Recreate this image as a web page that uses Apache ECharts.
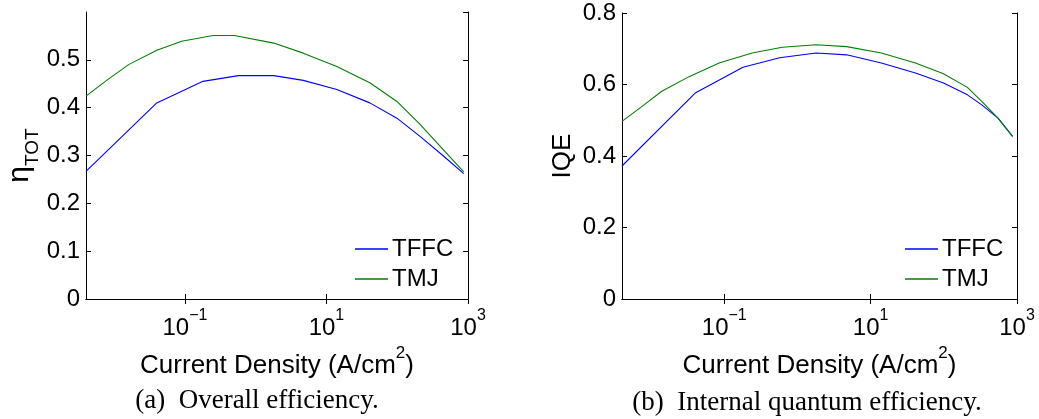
<!DOCTYPE html>
<html>
<head>
<meta charset="utf-8">
<script src="https://cdn.jsdelivr.net/npm/echarts@6/dist/echarts.min.js"></script>
<style>
  html, body { margin: 0; padding: 0; background: #ffffff; }
  #chart { width: 1039px; height: 419px; }
</style>
</head>
<body>
<div id="chart"></div>
<script>
// Series names and decade tick positions on the current-density axis (A/cm^2)
const seriesNames = ['TFFC', 'TMJ'];
const densityTicks = [0.1, 10, 1000];

// (a) Overall efficiency, eta_TOT
const etaTffcX = [0.004, 0.04, 0.18, 0.57, 1.8, 4.7, 14, 41, 99, 210, 450, 870];
const etaTffcY = [0.267, 0.410, 0.455, 0.467, 0.467, 0.457, 0.438, 0.410, 0.378, 0.340, 0.299, 0.262];
const etaTmjX = [0.004, 0.008, 0.016, 0.04, 0.09, 0.25, 0.5, 1.8, 4.7, 14, 41, 99, 210, 450, 870];
const etaTmjY = [0.424, 0.458, 0.490, 0.520, 0.539, 0.551, 0.551, 0.535, 0.514, 0.486, 0.452, 0.413, 0.365, 0.312, 0.266];

// (b) Internal quantum efficiency
const iqeTffcX = [0.004, 0.04, 0.18, 0.57, 1.8, 4.7, 14, 41, 99, 210, 330, 550, 870];
const iqeTffcY = [0.372, 0.576, 0.648, 0.675, 0.688, 0.683, 0.660, 0.632, 0.604, 0.571, 0.543, 0.506, 0.455];
const iqeTmjX = [0.004, 0.008, 0.014, 0.033, 0.085, 0.24, 0.62, 1.8, 4.7, 14, 41, 99, 210, 330, 550, 870];
const iqeTmjY = [0.497, 0.543, 0.581, 0.622, 0.660, 0.688, 0.704, 0.711, 0.706, 0.688, 0.660, 0.630, 0.592, 0.553, 0.506, 0.455];

const colors = { TFFC: '#0000ff', TMJ: '#008000' };
const SANS = '"Liberation Sans", Arial, sans-serif';
const SERIF = '"Liberation Serif", "Times New Roman", serif';

function pairs(xs, ys) { return xs.map((x, i) => [x, ys[i]]); }

function powerLabel(v) {
  const e = Math.round(Math.log10(v));
  const sup = e < 0 ? '\u2212' + (-e) : String(e);
  return '{b|10}{s|' + sup + '}';
}

const tickRich = {
  b: { fontSize: 24, fontFamily: SANS, color: '#000', lineHeight: 32, verticalAlign: 'bottom' },
  s: { fontSize: 16, fontFamily: SANS, color: '#000', lineHeight: 32, verticalAlign: 'top' }
};

const nameRich = {
  n: { fontSize: 26, fontFamily: SANS, color: '#000', lineHeight: 34, verticalAlign: 'bottom' },
  s: { fontSize: 17, fontFamily: SANS, color: '#000', lineHeight: 34, verticalAlign: 'top' },
  eta: { fontSize: 30, fontFamily: SANS, color: '#000', lineHeight: 34, verticalAlign: 'bottom' },
  sub: { fontSize: 19, fontFamily: SANS, color: '#000', lineHeight: 34, verticalAlign: 'bottom', padding: [0, 0, -8, 0] }
};

const blackLine = { show: true, lineStyle: { color: '#000', width: 1 } };

function densityAxis(gridIndex, bottom) {
  return {
    gridIndex: gridIndex,
    type: 'log',
    logBase: 10,
    min: 0.004,
    max: 1000,
    position: bottom ? 'bottom' : 'top',
    axisLine: blackLine,
    axisTick: { show: true, inside: true, length: 5, customValues: densityTicks, lineStyle: { color: '#000' } },
    axisLabel: bottom ? {
      show: true, customValues: densityTicks, margin: 9,
      formatter: powerLabel, rich: tickRich
    } : { show: false },
    splitLine: { show: false },
    minorTick: { show: false },
    name: bottom ? '{n|Current Density (A/cm}{s|2}{n|)}' : '',
    nameLocation: 'middle',
    nameGap: 42,
    nameTextStyle: { rich: nameRich }
  };
}

function valueAxis(gridIndex, left, max, interval, showMax, name, gap) {
  return {
    gridIndex: gridIndex,
    type: 'value',
    min: 0,
    max: max,
    interval: interval,
    position: left ? 'left' : 'right',
    axisLine: blackLine,
    axisTick: { show: true, inside: true, length: 5, lineStyle: { color: '#000' } },
    axisLabel: left ? {
      show: true, margin: 6, fontSize: 24, fontFamily: SANS, color: '#000',
      showMaxLabel: showMax
    } : { show: false },
    splitLine: { show: false },
    name: left ? name : '',
    nameLocation: 'middle',
    nameGap: gap || 50,
    nameRotate: 90,
    nameTextStyle: { rich: nameRich, fontSize: 26, fontFamily: SANS, color: '#000' }
  };
}

function lineSeries(name, xAxisIndex, yAxisIndex, xs, ys) {
  return {
    name: name,
    type: 'line',
    xAxisIndex: xAxisIndex,
    yAxisIndex: yAxisIndex,
    data: pairs(xs, ys),
    symbol: 'none',
    showSymbol: false,
    smooth: false,
    lineStyle: { color: colors[name], width: 1.1 },
    itemStyle: { color: colors[name] },
    emphasis: { disabled: true }
  };
}

function legendAt(left, top) {
  return {
    data: seriesNames.map(n => ({ name: n, icon: 'rect', itemStyle: { color: colors[n] } })),
    orient: 'vertical',
    left: left,
    top: top,
    padding: 0,
    itemWidth: 33,
    itemHeight: 1.3,
    itemGap: 6,
    selectedMode: false,
    textStyle: { fontSize: 24, fontFamily: SANS, color: '#000', lineHeight: 24, padding: [0, 0, 0, -1] }
  };
}

const chart = echarts.init(document.getElementById('chart'), null, { renderer: 'canvas' });

chart.setOption({
  animation: false,
  backgroundColor: '#ffffff',
  grid: [
    { left: 86, top: 12, width: 382, height: 287 },
    { left: 622, top: 13, width: 395, height: 286 }
  ],
  xAxis: [
    densityAxis(0, true), densityAxis(0, false),
    densityAxis(1, true), densityAxis(1, false)
  ],
  yAxis: [
    valueAxis(0, true, 0.6, 0.1, false, '{eta|\u03b7}{sub|TOT}', 50), valueAxis(0, false, 0.6, 0.1, false, ''),
    valueAxis(1, true, 0.8, 0.2, true, '{n|IQE}', 46), valueAxis(1, false, 0.8, 0.2, true, '')
  ],
  legend: [legendAt(355, 237), legendAt(905, 237)],
  series: [
    lineSeries('TFFC', 0, 0, etaTffcX, etaTffcY),
    lineSeries('TMJ', 0, 0, etaTmjX, etaTmjY),
    lineSeries('TFFC', 2, 2, iqeTffcX, iqeTffcY),
    lineSeries('TMJ', 2, 2, iqeTmjX, iqeTmjY)
  ],
  graphic: [
    { type: 'text', x: 257, y: 401, style: { text: '(a)  Overall efficiency.', font: '27px ' + SERIF, fill: '#000', align: 'center', verticalAlign: 'middle' } },
    { type: 'text', x: 807, y: 403, style: { text: '(b)  Internal quantum efficiency.', font: '27px ' + SERIF, fill: '#000', align: 'center', verticalAlign: 'middle' } }
  ]
});
</script>
</body>
</html>
